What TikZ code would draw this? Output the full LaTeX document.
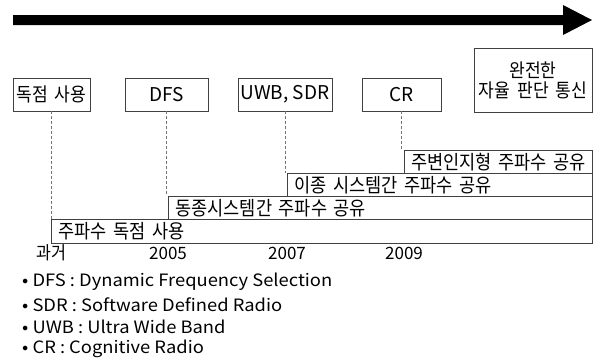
\documentclass[tikz,border=0pt]{standalone}
\usepackage{fontspec}
\setmainfont{Noto Sans CJK KR}
\newfontfamily\kr[FakeStretch=0.9,WordSpace=1.8]{Noto Sans CJK KR}
\newfontfamily\lgfont[FakeStretch=1.08]{Noto Sans CJK KR}
\begin{document}
\begin{tikzpicture}[x=1pt,y=-1pt,
  topbox/.style={draw=black!75, line width=0.8pt, fill=white, inner sep=0pt,
    align=center, font=\fontsize{19}{20}\selectfont},
  barbox/.style={draw=black!75, line width=0.8pt, anchor=north west,
    inner xsep=7pt, inner ysep=0pt, align=left, minimum height=23pt,
    font=\kr\fontsize{19.5}{20}\selectfont},
  dashline/.style={draw=black!55, line width=0.6pt, dash pattern=on 3pt off 2pt},
  yearlbl/.style={font=\fontsize{17}{18}\selectfont, inner sep=0pt},
  legend/.style={font=\lgfont\fontsize{17}{18}\selectfont, anchor=west, inner sep=0pt}]
\useasboundingbox (0,0) rectangle (600,360);
% big arrow
\fill (13,15) -- (563,15) -- (563,5) -- (592,20) -- (563,35) -- (563,25) -- (13,25) -- cycle;
% top boxes
\node[topbox, minimum width=77pt, minimum height=33pt] (b1) at (51.5,94.5) {\kr 독점 사용};
\node[topbox, minimum width=83pt, minimum height=33pt] (b2) at (166.5,94.5) {DFS};
\node[topbox, minimum width=94pt, minimum height=33pt] (b3) at (285,94.5) {UWB, SDR};
\node[topbox, minimum width=79pt, minimum height=33pt] (b4) at (401.5,94.5) {CR};
\node[topbox, minimum width=118pt, minimum height=64pt] (b5) at (533,80) {\kr 완전한\\\kr 자율 판단 통신};
% bars
\node[barbox, minimum width=541pt, minimum height=24pt, text width=527pt] (r1) at (51,219) {\mbox{주파수 독점 사용}};
\node[barbox, minimum width=424pt, text width=410pt] (r2) at (168,196) {\mbox{동종시스템간 주파수 공유}};
\node[barbox, minimum width=305pt, text width=291pt] (r3) at (287,173) {\mbox{이종 시스템간 주파수 공유}};
\node[barbox, minimum width=188pt, text width=174pt] (r4) at (404,150) {\mbox{주변인지형 주파수 공유}};
% dashed connectors
\draw[dashline] (b1.south) -- (b1.south |- r1.north);
\draw[dashline] (b2.south) -- (b2.south |- r2.north);
\draw[dashline] (b3.south) -- (b3.south |- r3.north);
\draw[dashline] (b4.south) -- (b4.south |- r4.north);
% time labels
\node[yearlbl] (y0) at (51,253) {\kr\fontsize{18}{18}\selectfont 과거};
\node[yearlbl] (y1) at (168,253) {2005};
\node[yearlbl] (y2) at (287,253) {2007};
\node[yearlbl] (y3) at (404,253) {2009};
% legend
\node[legend] (l1) at (22,282) {•\ DFS : Dynamic Frequency Selection};
\node[legend] (l2) at (22,305) {•\ SDR : Software Defined Radio};
\node[legend] (l3) at (22,327) {•\ UWB : Ultra Wide Band};
\node[legend] (l4) at (22,349) {•\ CR : Cognitive Radio};
\end{tikzpicture}
\end{document}
